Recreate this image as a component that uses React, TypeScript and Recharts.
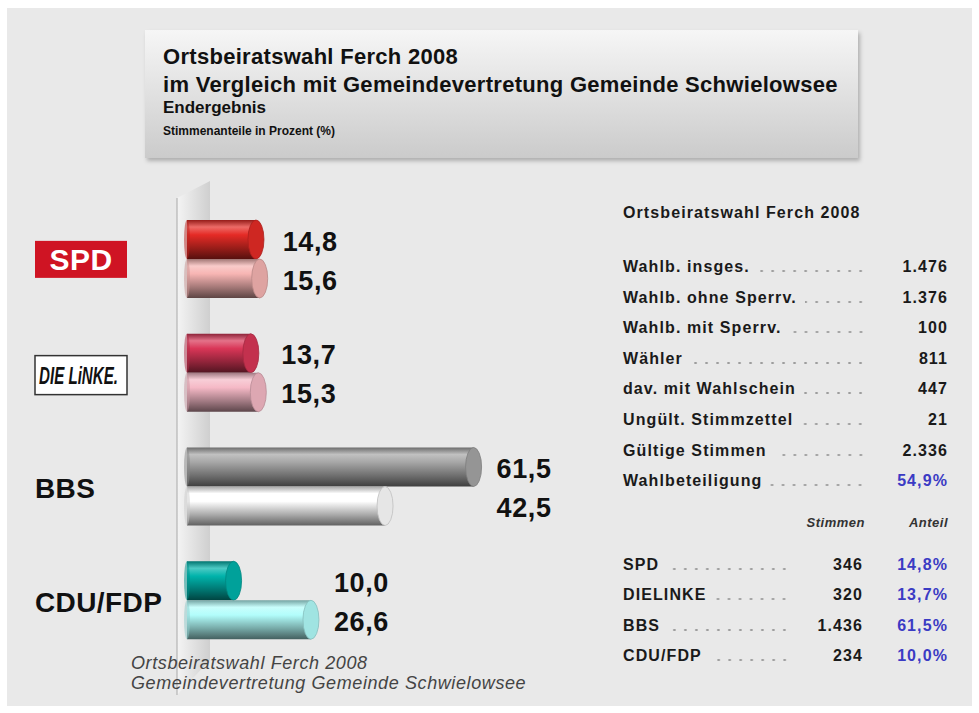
import React from 'react';
import { BarChart, Bar, XAxis, YAxis, LabelList } from 'recharts';

// Stimmenanteile in Prozent
const parties = ['SPD', 'DIE LINKE', 'BBS', 'CDU/FDP'];
const ortsbeirat = [14.8, 13.7, 61.5, 10.0];
const gemeinde = [15.6, 15.3, 42.5, 26.6];

// Tabelle rechts
const statLabels = [
  'Wahlb. insges.',
  'Wahlb. ohne Sperrv.',
  'Wahlb. mit Sperrv.',
  'Wähler',
  'dav. mit Wahlschein',
  'Ungült. Stimmzettel',
  'Gültige Stimmen',
  'Wahlbeteiligung',
];
const statValues = ['1.476', '1.376', '100', '811', '447', '21', '2.336', '54,9%'];

const partyLabels = ['SPD', 'DIELINKE', 'BBS', 'CDU/FDP'];
const partyVotes = ['346', '320', '1.436', '234'];
const partyShares = ['14,8%', '13,7%', '61,5%', '10,0%'];

const ortsColors = ['#e52b26', '#d93657', '#a6a6a6', '#00b3ab'];
const gemeindeColors = ['#f7b5b3', '#f5b9c6', '#ffffff', '#b2fdfb'];

const data = parties.map((name, i) => ({ name, orts: ortsbeirat[i], gv: gemeinde[i] }));

const FONT = '"Liberation Sans", Arial, Helvetica, sans-serif';
const BLUE = '#3b3bc4';

const mix = (hex: string, target: string, t: number) => {
  const a = parseInt(hex.slice(1), 16);
  const b = parseInt(target.slice(1), 16);
  const ch = (v: number, s: number) => (v >> s) & 255;
  const m = (s: number) => Math.round(ch(a, s) + (ch(b, s) - ch(a, s)) * t);
  return `rgb(${m(16)},${m(8)},${m(0)})`;
};

const fmt = (v: number) => v.toFixed(1).replace('.', ',');

// 3D-Zylinder als Balkenform
const cylinder = (colors: string[], key: string) => (props: any) => {
  const { x, y, width, height, index } = props;
  const c = colors[index];
  const id = `cyl-${key}-${index}`;
  const rx = 8;
  return (
    <g>
      <defs>
        <linearGradient id={id} x1="0" y1="0" x2="0" y2="1">
          <stop offset="0%" stopColor={mix(c, '#000000', 0.35)} />
          <stop offset="18%" stopColor={mix(c, '#ffffff', 0.3)} />
          <stop offset="38%" stopColor={c} />
          <stop offset="72%" stopColor={mix(c, '#000000', 0.33)} />
          <stop offset="100%" stopColor={mix(c, '#000000', 0.62)} />
        </linearGradient>
      </defs>
      <rect x={x} y={y} width={width} height={height} fill={`url(#${id})`} />
      <ellipse cx={x} cy={y + height / 2} rx={3} ry={height / 2} fill={mix(c, '#000000', 0.2)} opacity={0.5} />
      <ellipse
        cx={x + width}
        cy={y + height / 2}
        rx={rx}
        ry={height / 2}
        fill={mix(c, '#000000', 0.1)}
        stroke={mix(c, '#000000', 0.25)}
        strokeWidth={0.8}
      />
    </g>
  );
};

// Beschriftung am Ende des laengeren Balkens der Gruppe
const valueLabel = (props: any) => {
  const { x, y, width, height, value, index } = props;
  const k = width / value;
  const maxV = Math.max(ortsbeirat[index], gemeinde[index]);
  const tx = x + maxV * k + 23;
  return (
    <text
      x={tx}
      y={y + height / 2 + 2}
      dominantBaseline="central"
      fontFamily={FONT}
      fontWeight="bold"
      fontSize={27}
      letterSpacing={0.6}
      fill="#111"
    >
      {fmt(value)}
    </text>
  );
};

const PartyTick = (props: any) => {
  const { y, payload } = props;
  const name = payload.value;
  if (name === 'SPD') {
    return (
      <g>
        <rect x={35} y={y - 18} width={92} height={37} fill="#cf1423" />
        <text
          x={81}
          y={y + 1}
          textAnchor="middle"
          dominantBaseline="central"
          fontFamily={FONT}
          fontWeight="900"
          fontSize={30}
          letterSpacing={0.5}
          fill="#fff"
        >
          SPD
        </text>
      </g>
    );
  }
  if (name === 'DIE LINKE') {
    return (
      <g>
        <rect x={35} y={y - 17} width={92} height={39} fill="#fff" stroke="#333" strokeWidth={1.5} />
        <text
          x={39}
          y={y + 11}
          fontFamily={'"Liberation Sans Narrow", "Arial Narrow", ' + FONT}
          fontWeight="bold"
          fontStyle="italic"
          fontSize={23}
          textLength={79}
          lengthAdjust="spacingAndGlyphs"
          fill="#111"
        >
          DIE LiNKE.
        </text>
      </g>
    );
  }
  return (
    <text
      x={35}
      y={y + 2}
      dominantBaseline="central"
      fontFamily={FONT}
      fontWeight="bold"
      fontSize={28}
      letterSpacing={0.4}
      fill="#111"
    >
      {name}
    </text>
  );
};

const leader: React.CSSProperties = {
  flex: 1,
  height: 4,
  marginTop: 12,
  marginLeft: 8,
  backgroundImage: 'radial-gradient(circle, #9c9c9c 1px, rgba(0,0,0,0) 1.4px)',
  backgroundSize: '11px 4px',
  backgroundRepeat: 'repeat-x',
  backgroundPosition: 'right center',
};

const tableText: React.CSSProperties = {
  fontFamily: FONT,
  fontWeight: 'bold',
  fontSize: 16,
  letterSpacing: 1.1,
  color: '#1a1a1a',
  whiteSpace: 'nowrap',
};

export default function App() {
  return (
    <div style={{ position: 'absolute', left: 0, top: 0, width: 979, height: 713, background: '#fff', overflow: 'hidden' }}>
      <div style={{ position: 'absolute', left: 7, top: 8, width: 965, height: 698, background: '#e9e9e9' }} />

      {/* Titel */}
      <div
        style={{
          position: 'absolute',
          left: 145,
          top: 30,
          width: 713,
          height: 128,
          background: 'linear-gradient(to bottom, #f6f6f6, #cbcbcb)',
          boxShadow: '2px 3px 4px rgba(0,0,0,0.25)',
          fontFamily: FONT,
          color: '#111',
        }}
      >
        <div style={{ position: 'absolute', left: 18, top: 14, fontSize: 22, lineHeight: '26px', fontWeight: 'bold', letterSpacing: 0.3, whiteSpace: 'nowrap' }}>
          Ortsbeiratswahl Ferch 2008
        </div>
        <div style={{ position: 'absolute', left: 18, top: 42, fontSize: 22, lineHeight: '26px', fontWeight: 'bold', letterSpacing: 0.3, whiteSpace: 'nowrap' }}>
          im Vergleich mit Gemeindevertretung Gemeinde Schwielowsee
        </div>
        <div style={{ position: 'absolute', left: 18, top: 68, fontSize: 17, lineHeight: '20px', fontWeight: 'bold', whiteSpace: 'nowrap' }}>
          Endergebnis
        </div>
        <div style={{ position: 'absolute', left: 18, top: 93, fontSize: 12, lineHeight: '16px', fontWeight: 'bold', whiteSpace: 'nowrap' }}>
          Stimmenanteile in Prozent (%)
        </div>
      </div>

      {/* Rueckwand */}
      <svg style={{ position: 'absolute', left: 0, top: 0 }} width={979} height={713}>
        <defs>
          <linearGradient id="wall" x1="0" y1="0" x2="1" y2="0">
            <stop offset="0%" stopColor="#f4f4f4" />
            <stop offset="100%" stopColor="#cfcfcf" />
          </linearGradient>
        </defs>
        <polygon points="177,198 210,181 210,660 177,695" fill="url(#wall)" />
        <line x1={177} y1={198} x2={177} y2={695} stroke="#a8a8a8" strokeWidth={1} />
      </svg>

      <div style={{ position: 'absolute', left: 0, top: 0 }}>
        <BarChart
          width={979}
          height={713}
          data={data}
          layout="vertical"
          margin={{ top: 202, right: 326, bottom: 56, left: 27 }}
          barSize={39}
          barGap={0}
        >
          <XAxis type="number" domain={[0, 100]} hide />
          <YAxis type="category" dataKey="name" width={160} axisLine={false} tickLine={false} tick={PartyTick} />
          <Bar dataKey="orts" isAnimationActive={false} shape={cylinder(ortsColors, 'o')}>
            <LabelList dataKey="orts" content={valueLabel} />
          </Bar>
          <Bar dataKey="gv" isAnimationActive={false} shape={cylinder(gemeindeColors, 'g')}>
            <LabelList dataKey="gv" content={valueLabel} />
          </Bar>
        </BarChart>
      </div>

      {/* Fussnote */}
      <div style={{ position: 'absolute', left: 131, top: 653, fontFamily: FONT, fontStyle: 'italic', fontSize: 18, lineHeight: '20px', letterSpacing: 0.6, color: '#444', whiteSpace: 'nowrap' }}>
        Ortsbeiratswahl Ferch 2008
        <br />
        Gemeindevertretung Gemeinde Schwielowsee
      </div>

      {/* Tabelle */}
      <div style={{ ...tableText, position: 'absolute', left: 623, top: 203, lineHeight: '20px' }}>Ortsbeiratswahl Ferch 2008</div>
      {statLabels.map((label, i) => (
        <div key={label} style={{ ...tableText, position: 'absolute', left: 623, width: 325, top: 257 + i * 30.6, height: 20, lineHeight: '20px', display: 'flex' }}>
          <span>{label}</span>
          <div style={leader} />
          <span style={{ minWidth: 70, textAlign: 'right', paddingLeft: 12, color: i === statLabels.length - 1 ? BLUE : '#1a1a1a' }}>
            {statValues[i]}
          </span>
        </div>
      ))}

      <div style={{ ...tableText, position: 'absolute', left: 760, width: 105, top: 514, textAlign: 'right', fontSize: 13, fontStyle: 'italic', letterSpacing: 0.5, color: '#333', lineHeight: '18px' }}>
        Stimmen
      </div>
      <div style={{ ...tableText, position: 'absolute', left: 870, width: 78, top: 514, textAlign: 'right', fontSize: 13, fontStyle: 'italic', letterSpacing: 0.5, color: '#333', lineHeight: '18px' }}>
        Anteil
      </div>
      {partyLabels.map((label, i) => (
        <div key={label} style={{ ...tableText, position: 'absolute', left: 623, width: 325, top: 555 + i * 30.3, height: 20, lineHeight: '20px', display: 'flex' }}>
          <span>{label}</span>
          <div style={leader} />
          <span style={{ minWidth: 61, textAlign: 'right', paddingLeft: 12 }}>{partyVotes[i]}</span>
          <span style={{ width: 85, textAlign: 'right', color: BLUE }}>{partyShares[i]}</span>
        </div>
      ))}
    </div>
  );
}
